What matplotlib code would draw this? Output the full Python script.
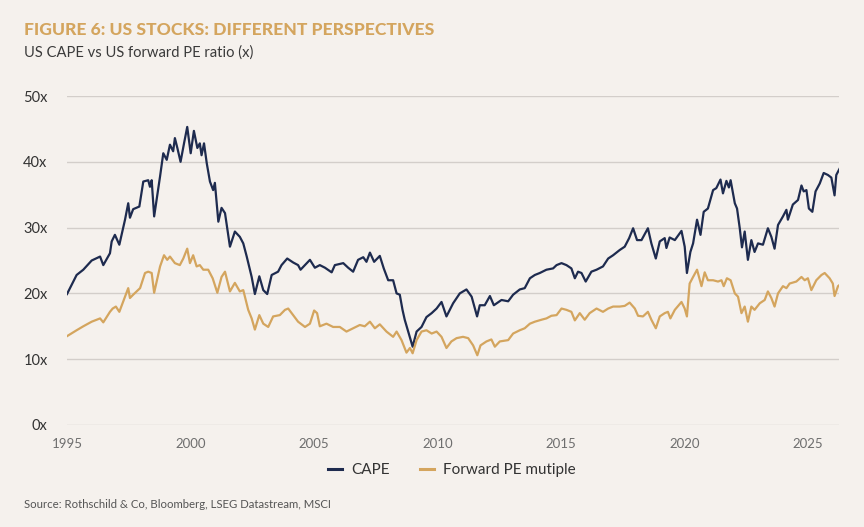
import matplotlib
matplotlib.use("Agg")
import matplotlib.pyplot as plt
from matplotlib.lines import Line2D

plt.rcParams['font.family'] = ['Lato', 'DejaVu Sans']

# ---- data ----
cape_dates = [1995.00, 1995.39, 1995.66, 1996.00, 1996.34, 1996.47, 1996.74, 1996.81, 1996.94, 1997.12,
              1997.35, 1997.48, 1997.55, 1997.68, 1997.93, 1998.09, 1998.29, 1998.36, 1998.43, 1998.53,
              1998.77, 1998.90, 1999.04, 1999.17, 1999.30, 1999.37, 1999.47, 1999.60, 1999.74, 1999.87,
              2000.01, 2000.14, 2000.28, 2000.38, 2000.45, 2000.55, 2000.66, 2000.79, 2000.92, 2000.99,
              2001.13, 2001.26, 2001.40, 2001.60, 2001.80, 2002.00, 2002.14, 2002.28, 2002.48, 2002.61,
              2002.79, 2002.95, 2003.11, 2003.29, 2003.55, 2003.69, 2003.92, 2004.16, 2004.36, 2004.46,
              2004.84, 2005.04, 2005.24, 2005.45, 2005.72, 2005.85, 2006.19, 2006.39, 2006.59, 2006.79,
              2007.00, 2007.13, 2007.27, 2007.44, 2007.67, 2007.83, 2008.01, 2008.21, 2008.35, 2008.48,
              2008.59, 2008.68, 2008.82, 2009.00, 2009.16, 2009.36, 2009.56, 2009.77, 2009.97, 2010.17,
              2010.37, 2010.64, 2010.91, 2011.18, 2011.39, 2011.61, 2011.72, 2011.92, 2012.13, 2012.29,
              2012.60, 2012.87, 2013.07, 2013.34, 2013.54, 2013.75, 2013.95, 2014.15, 2014.42, 2014.69,
              2014.83, 2015.03, 2015.23, 2015.43, 2015.57, 2015.70, 2015.84, 2016.01, 2016.24, 2016.45,
              2016.71, 2016.92, 2017.12, 2017.39, 2017.59, 2017.77, 2017.93, 2018.09, 2018.27, 2018.53,
              2018.67, 2018.85, 2019.01, 2019.21, 2019.28, 2019.41, 2019.62, 2019.89, 2020.02, 2020.11,
              2020.25, 2020.36, 2020.52, 2020.66, 2020.79, 2020.96, 2021.17, 2021.30, 2021.47, 2021.57,
              2021.71, 2021.81, 2021.88, 2022.05, 2022.14, 2022.25, 2022.34, 2022.45, 2022.58, 2022.72,
              2022.85, 2022.99, 2023.19, 2023.39, 2023.53, 2023.66, 2023.80, 2024.00, 2024.14, 2024.20,
              2024.40, 2024.61, 2024.75, 2024.84, 2024.95, 2025.05, 2025.19, 2025.32, 2025.49, 2025.65,
              2025.82, 2025.96, 2026.09, 2026.16, 2026.30]
cape = [19.9, 22.8, 23.6, 25.0, 25.6, 24.3, 26.1, 27.9, 28.9, 27.4,
        31.2, 33.7, 31.5, 32.8, 33.2, 37.0, 37.2, 36.2, 37.2, 31.7,
        37.8, 41.3, 40.3, 42.6, 41.6, 43.6, 42.1, 40.0, 42.8, 45.3,
        41.3, 44.7, 42.1, 42.8, 41.0, 42.8, 39.8, 37.0, 35.7, 36.8,
        30.9, 33.0, 32.2, 27.1, 29.4, 28.6, 27.6, 25.6, 22.5, 19.9,
        22.6, 20.5, 19.9, 22.8, 23.3, 24.3, 25.3, 24.7, 24.3, 23.6,
        25.1, 23.9, 24.3, 23.9, 23.2, 24.3, 24.6, 23.9, 23.3, 25.1,
        25.5, 24.8, 26.2, 24.8, 25.7, 23.8, 22.0, 22.0, 20.0, 19.8,
        17.5, 16.0, 14.2, 11.9, 14.2, 14.9, 16.4, 17.0, 17.7, 18.7,
        16.5, 18.5, 20.0, 20.6, 19.5, 16.5, 18.2, 18.2, 19.6, 18.2,
        19.0, 18.8, 19.8, 20.6, 20.8, 22.3, 22.8, 23.1, 23.6, 23.8,
        24.3, 24.6, 24.3, 23.8, 22.3, 23.3, 23.1, 21.8, 23.3, 23.6,
        24.1, 25.3, 25.8, 26.6, 27.1, 28.4, 29.9, 28.1, 28.1, 29.9,
        27.6, 25.3, 27.9, 28.4, 26.9, 28.5, 28.1, 29.5, 27.1, 23.1,
        26.3, 27.6, 31.2, 28.9, 32.4, 32.9, 35.7, 36.0, 37.3, 35.2,
        37.1, 36.1, 37.2, 33.7, 32.9, 29.9, 27.0, 29.4, 25.1, 28.1,
        26.3, 27.6, 27.4, 29.9, 28.6, 26.8, 30.4, 31.7, 32.7, 31.2,
        33.5, 34.2, 36.4, 35.5, 35.7, 32.9, 32.4, 35.5, 36.7, 38.3,
        38.0, 37.6, 34.9, 38.0, 39.0]

fpe_dates = [1995.00, 1995.39, 1995.66, 1996.00, 1996.34, 1996.47, 1996.74, 1996.85, 1996.98, 1997.12,
             1997.35, 1997.48, 1997.55, 1997.68, 1997.96, 1998.16, 1998.29, 1998.43, 1998.53, 1998.77,
             1998.93, 1999.06, 1999.17, 1999.37, 1999.57, 1999.71, 1999.87, 1999.98, 2000.11, 2000.25,
             2000.38, 2000.52, 2000.72, 2000.90, 2001.09, 2001.26, 2001.40, 2001.60, 2001.80, 2002.00,
             2002.14, 2002.34, 2002.48, 2002.61, 2002.79, 2002.95, 2003.15, 2003.35, 2003.62, 2003.83,
             2003.96, 2004.16, 2004.36, 2004.64, 2004.84, 2005.01, 2005.13, 2005.24, 2005.51, 2005.78,
             2006.05, 2006.32, 2006.59, 2006.86, 2007.06, 2007.27, 2007.47, 2007.67, 2007.94, 2008.21,
             2008.35, 2008.55, 2008.75, 2008.89, 2009.00, 2009.16, 2009.36, 2009.56, 2009.77, 2009.97,
             2010.17, 2010.37, 2010.57, 2010.78, 2011.04, 2011.25, 2011.45, 2011.62, 2011.75, 2011.99,
             2012.19, 2012.33, 2012.53, 2012.87, 2013.07, 2013.34, 2013.54, 2013.75, 2013.95, 2014.22,
             2014.42, 2014.62, 2014.83, 2015.03, 2015.23, 2015.43, 2015.57, 2015.77, 2015.97, 2016.17,
             2016.45, 2016.71, 2016.92, 2017.12, 2017.39, 2017.59, 2017.79, 2018.00, 2018.13, 2018.33,
             2018.53, 2018.67, 2018.85, 2019.01, 2019.21, 2019.34, 2019.44, 2019.62, 2019.89, 2020.02,
             2020.11, 2020.22, 2020.36, 2020.52, 2020.70, 2020.83, 2020.96, 2021.17, 2021.37, 2021.51,
             2021.60, 2021.73, 2021.88, 2022.05, 2022.18, 2022.32, 2022.45, 2022.58, 2022.72, 2022.85,
             2023.06, 2023.26, 2023.39, 2023.53, 2023.66, 2023.80, 2024.00, 2024.14, 2024.27, 2024.54,
             2024.75, 2024.88, 2025.01, 2025.15, 2025.35, 2025.56, 2025.69, 2025.89, 2026.02, 2026.09,
             2026.23, 2026.30]
fpe = [13.5, 14.4, 15.0, 15.7, 16.2, 15.6, 17.2, 17.7, 18.0, 17.2,
       19.5, 20.8, 19.3, 19.8, 20.8, 23.1, 23.3, 23.1, 20.1, 24.1,
       25.8, 25.1, 25.6, 24.6, 24.3, 25.3, 26.8, 24.6, 25.8, 24.1,
       24.3, 23.6, 23.6, 22.3, 20.1, 22.5, 23.3, 20.3, 21.6, 20.3,
       20.5, 17.5, 16.2, 14.5, 16.7, 15.4, 14.9, 16.5, 16.7, 17.5,
       17.7, 16.7, 15.7, 14.9, 15.4, 17.4, 17.0, 15.0, 15.4, 14.9,
       14.9, 14.2, 14.7, 15.2, 15.0, 15.7, 14.7, 15.3, 14.2, 13.4,
       14.2, 12.9, 11.0, 11.7, 10.9, 12.9, 14.2, 14.4, 13.9, 14.2,
       13.4, 11.7, 12.7, 13.2, 13.4, 13.2, 12.1, 10.6, 12.1, 12.7,
       13.0, 11.9, 12.7, 12.9, 13.9, 14.4, 14.7, 15.4, 15.7, 16.0,
       16.2, 16.6, 16.7, 17.7, 17.5, 17.2, 15.9, 17.0, 16.0, 17.0,
       17.7, 17.2, 17.7, 18.0, 18.0, 18.1, 18.6, 17.7, 16.6, 16.5,
       17.2, 16.0, 14.7, 16.5, 17.0, 17.2, 16.2, 17.5, 18.7, 17.7,
       16.5, 21.5, 22.5, 23.6, 21.1, 23.2, 22.0, 22.0, 21.8, 22.0,
       21.1, 22.3, 22.0, 20.0, 19.5, 17.0, 18.0, 15.7, 18.0, 17.5,
       18.5, 19.0, 20.3, 19.3, 18.0, 20.0, 21.1, 20.8, 21.5, 21.8,
       22.5, 22.0, 22.3, 20.5, 22.0, 22.8, 23.1, 22.3, 21.5, 19.6,
       21.1, 21.3]

x_ticks = [1995, 2000, 2005, 2010, 2015, 2020, 2025]
y_ticks = [0, 10, 20, 30, 40, 50]
y_labels = ["0x", "10x", "20x", "30x", "40x", "50x"]
series_names = ["CAPE", "Forward PE mutiple"]

# ---- styling ----
BG = "#F5F1ED"
NAVY = "#1E2B4F"
GOLD = "#D4A55E"
GRID = "#D3CECA"

fig = plt.figure(figsize=(8.64, 5.27), dpi=100, facecolor=BG)
ax = fig.add_axes([67/864, 1-425/527, (839-67)/864, (425-96)/527])
ax.set_facecolor(BG)

ax.plot(cape_dates, cape, color=NAVY, lw=1.6, solid_joinstyle='round')
ax.plot(fpe_dates, fpe, color=GOLD, lw=1.6, solid_joinstyle='round')

ax.set_xlim(1995.0, 2026.27)
ax.set_ylim(0, 50)
ax.set_yticks(y_ticks)
ax.set_yticklabels(y_labels)
ax.set_xticks(x_ticks)
ax.set_xticklabels([str(t) for t in x_ticks])
ax.yaxis.grid(True, color=GRID, lw=1.0)
ax.set_axisbelow(True)
for s in ax.spines.values():
    s.set_visible(False)
ax.tick_params(axis='both', length=0)
ax.tick_params(axis='y', pad=14, labelsize=10.5, labelcolor="#333333")
ax.tick_params(axis='x', pad=9, labelsize=9.5, labelcolor="#6E6E6E")

fig.text(24/864, 1-30/527, "FIGURE 6: US STOCKS: DIFFERENT PERSPECTIVES", color=GOLD,
         fontsize=12.6, fontweight='black', va='center', ha='left')
fig.text(24/864, 1-53/527, "US CAPE vs US forward PE ratio (x)", color="#3A3A3A",
         fontsize=10.6, va='center', ha='left')
fig.text(24/864, 1-505/527, "Source: Rothschild & Co, Bloomberg, LSEG Datastream, MSCI",
         color="#555555", fontsize=8.2, va='center', ha='left')

handles = [Line2D([0], [0], color=NAVY, lw=2.2), Line2D([0], [0], color=GOLD, lw=2.2)]
fig.legend(handles, series_names, loc='center', bbox_to_anchor=(452/864, 1-470/527),
           ncol=2, frameon=False, fontsize=11, handlelength=0.9, handletextpad=0.6,
           columnspacing=2.0, labelcolor="#333333")

fig.savefig("out.png", dpi=100, facecolor=BG)
